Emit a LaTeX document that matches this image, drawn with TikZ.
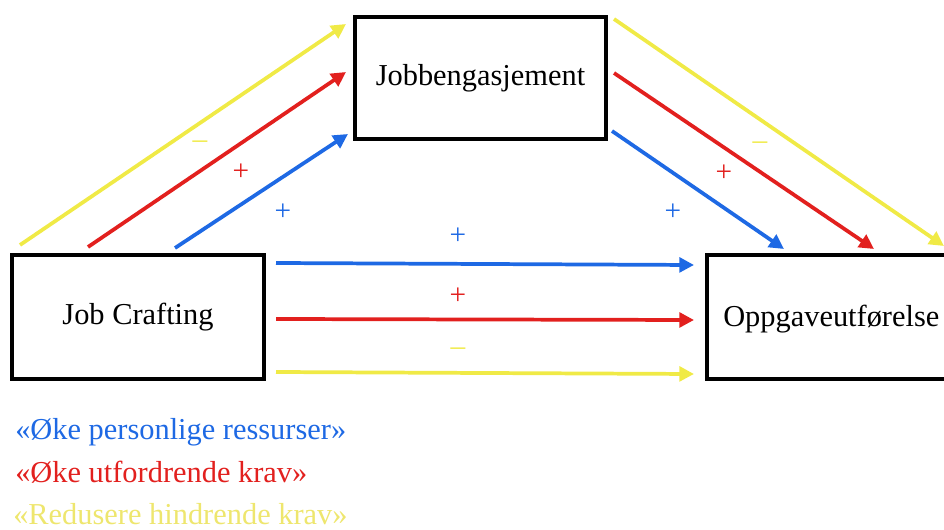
\documentclass[tikz,border=0pt]{standalone}
\usepackage{fontspec}
\setmainfont{Liberation Serif}
\usetikzlibrary{arrows.meta}
\definecolor{cblue}{RGB}{30,105,228}
\definecolor{cred}{RGB}{226,32,30}
\definecolor{cyel}{RGB}{240,234,70}
\definecolor{cyeltxt}{RGB}{238,230,110}
\tikzset{
  box/.style={draw=black, line width=2.4pt, inner sep=0pt, font=\fontsize{22.8}{26}\selectfont},
  arr/.style={line width=2.8pt, -{Triangle[length=11pt,width=11pt]}, shorten >=0pt},
  sign/.style={font=\fontsize{22}{26}\selectfont},
  legend/.style={anchor=west, font=\fontsize{22.8}{26}\selectfont, inner sep=0pt},
}
\begin{document}
\begin{tikzpicture}[x=0.75pt,y=-0.75pt]
\useasboundingbox (0,0) rectangle (944,530);
% boxes
\node[box, minimum width=251*0.75pt, minimum height=122*0.75pt] (eng) at (480.5,78) {Jobbengasjement};
\node[box, minimum width=252*0.75pt, minimum height=124*0.75pt] (jc) at (138,317) {Job Crafting};
\draw[line width=2.4pt] (960,255) -- (707,255) -- (707,379) -- (960,379);
\node[inner sep=0pt, font=\fontsize{22.8}{26}\selectfont, anchor=west] (opp) at (723,319) {Oppgaveutførelse};
% endpoints
\coordinate (yu0) at (20,245); \coordinate (yu1) at (346,24);
\coordinate (ru0) at (88,247); \coordinate (ru1) at (346,72);
\coordinate (bu0) at (175,248); \coordinate (bu1) at (348,134);
\coordinate (yd0) at (614,19); \coordinate (yd1) at (944,246);
\coordinate (rd0) at (614,73); \coordinate (rd1) at (874,249);
\coordinate (bd0) at (612,131); \coordinate (bd1) at (784,249);
\coordinate (bh0) at (276,263); \coordinate (bh1) at (694,265);
\coordinate (rh0) at (276,319); \coordinate (rh1) at (694,320);
\coordinate (yh0) at (276,372); \coordinate (yh1) at (694,374);
% arrows
\draw[arr, cyel] (yu0) -- (yu1);
\draw[arr, cred] (ru0) -- (ru1);
\draw[arr, cblue] (bu0) -- (bu1);
\draw[arr, cyel] (yd0) -- (yd1);
\draw[arr, cred] (rd0) -- (rd1);
\draw[arr, cblue] (bd0) -- (bd1);
\draw[arr, cblue] (bh0) -- (bh1);
\draw[arr, cred] (rh0) -- (rh1);
\draw[arr, cyel] (yh0) -- (yh1);
% signs
\node[sign, text=cyel] (s1) at (200,145) {--};
\node[sign, text=cred] (s2) at (241,172) {+};
\node[sign, text=cblue] (s3) at (283,212) {+};
\node[sign, text=cyel] (s4) at (760,146) {--};
\node[sign, text=cred] (s5) at (724,173) {+};
\node[sign, text=cblue] (s6) at (673,212) {+};
\node[sign, text=cblue] (s7) at (458,236) {+};
\node[sign, text=cred] (s8) at (458,296) {+};
\node[sign, text=cyel] (s9) at (458,352) {--};
% legend
\node[legend, text=cblue] (l1) at (15,432) {«Øke personlige ressurser»};
\node[legend, text=cred] (l2) at (15,472) {«Øke utfordrende krav»};
\node[legend, text=cyeltxt] (l3) at (13,514) {«Redusere hindrende krav»};
\end{tikzpicture}
\end{document}
